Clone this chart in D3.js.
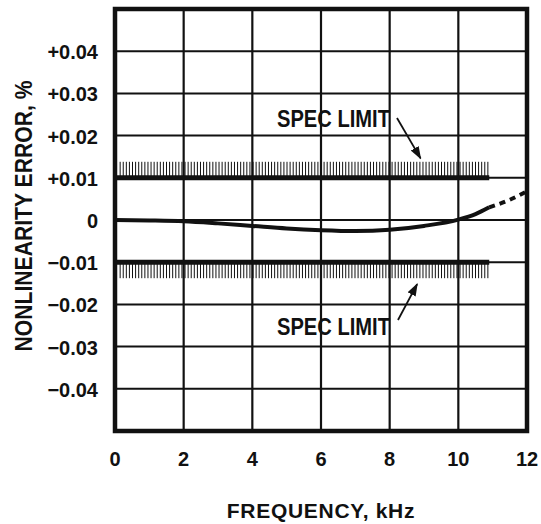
<!DOCTYPE html>
<html><head><meta charset="utf-8">
<script src="https://cdn.jsdelivr.net/npm/d3@7"></script>
<style>
html,body{margin:0;padding:0;background:#fff;}
text{font-family:"Liberation Sans",Arial,sans-serif;font-weight:bold;fill:#111;}
</style></head>
<body>
<svg id="chart" width="541" height="524"></svg>
<script>
// ---- data ----
const xTicks = [0, 2, 4, 6, 8, 10, 12];
const yTicks = [0.04, 0.03, 0.02, 0.01, 0, -0.01, -0.02, -0.03, -0.04];
const yTickLabels = ["+0.04", "+0.03", "+0.02", "+0.01", "0", "\u22120.01", "\u22120.02", "\u22120.03", "\u22120.04"];
const curveX = [0, 1, 2, 3, 4, 5, 6, 7, 8, 9, 10, 10.5, 10.9];
const curveY = [0, -0.0001, -0.0003, -0.0008, -0.0014, -0.002, -0.0024, -0.0026, -0.0023, -0.0014, 0.0001, 0.0014, 0.003];
const extrapX = [10.9, 11.5, 12];
const extrapY = [0.003, 0.0048, 0.0068];
const specLimits = [0.01, -0.01];
const specRange = [0, 10.9];
const hatchStep = 0.09;
const xTitle = "FREQUENCY, kHz";
const yTitle = "NONLINEARITY ERROR, %";
const annoText = "SPEC LIMIT";

// ---- layout ----
const svg = d3.select("#chart");
const L = 115, T = 9, W = 412, H = 422;
const x = d3.scaleLinear().domain([0, 12]).range([L, L + W]);
const y = d3.scaleLinear().domain([-0.05, 0.05]).range([T + H, T]);
const ink = "#111";

// grid
const g = svg.append("g");
g.selectAll(".hg").data(yTicks).enter().append("line")
  .attr("x1", L).attr("x2", L + W)
  .attr("y1", d => y(d)).attr("y2", d => y(d))
  .attr("stroke", ink).attr("stroke-width", 2);
g.selectAll(".vg").data(xTicks.filter(d => d > 0 && d < 12)).enter().append("line")
  .attr("y1", T).attr("y2", T + H)
  .attr("x1", d => x(d)).attr("x2", d => x(d))
  .attr("stroke", ink).attr("stroke-width", 2.2);

// spec limit lines with hatching
specLimits.forEach(v => {
  const dir = v > 0 ? -1 : 1;
  const hatch = d3.range(specRange[0] + 0.15, specRange[1] + 0.001, hatchStep);
  g.selectAll(null).data(hatch).enter().append("line")
    .attr("x1", d => x(d)).attr("x2", d => x(d))
    .attr("y1", y(v)).attr("y2", y(v) + dir * 16)
    .attr("stroke", ink).attr("stroke-width", 1);
  g.append("line")
    .attr("x1", x(specRange[0])).attr("x2", x(specRange[1]))
    .attr("y1", y(v)).attr("y2", y(v))
    .attr("stroke", ink).attr("stroke-width", 5);
});

// curve
const line = d3.line().x(d => x(d[0])).y(d => y(d[1])).curve(d3.curveMonotoneX);
g.append("path").datum(curveX.map((d, i) => [d, curveY[i]]))
  .attr("d", line).attr("fill", "none").attr("stroke", ink).attr("stroke-width", 4);
g.append("path").datum(extrapX.map((d, i) => [d, extrapY[i]]))
  .attr("d", line).attr("fill", "none").attr("stroke", ink).attr("stroke-width", 4)
  .attr("stroke-dasharray", "6,5");

// frame
svg.append("rect").attr("x", L).attr("y", T).attr("width", W).attr("height", H)
  .attr("fill", "none").attr("stroke", ink).attr("stroke-width", 4.5);

// axis labels
svg.selectAll(".xt").data(xTicks).enter().append("text")
  .attr("x", d => x(d)).attr("y", 466).attr("text-anchor", "middle")
  .attr("font-size", 20).text(d => d);
svg.selectAll(".yt").data(yTicks).enter().append("text")
  .attr("x", 98).attr("y", d => y(d) + 8).attr("text-anchor", "end")
  .attr("font-size", 20).text((d, i) => yTickLabels[i]);
svg.append("text").attr("x", x(6)).attr("y", 518).attr("text-anchor", "middle")
  .attr("font-size", 21).attr("letter-spacing", 0.7).text(xTitle);
svg.append("text").attr("transform", `translate(32,216) rotate(-90) scale(0.92,1)`)
  .attr("text-anchor", "middle").attr("font-size", 23).text(yTitle);

// annotations
const defs = svg.append("defs");
defs.append("marker").attr("id", "ah").attr("viewBox", "0 0 10 10")
  .attr("refX", 9).attr("refY", 5).attr("markerWidth", 13).attr("markerHeight", 13)
  .attr("markerUnits", "userSpaceOnUse").attr("orient", "auto")
  .append("path").attr("d", "M0,1.5 L10,5 L0,8.5 Z").attr("fill", ink);

svg.append("text").attr("transform", `translate(277,127) scale(0.876,1)`)
  .attr("font-size", 23).text(annoText);
svg.append("line").attr("x1", 397).attr("y1", 118)
  .attr("x2", x(8.9)).attr("y2", y(0.0146))
  .attr("stroke", ink).attr("stroke-width", 1.8).attr("marker-end", "url(#ah)");
svg.append("text").attr("transform", `translate(277,335) scale(0.876,1)`)
  .attr("font-size", 23).text(annoText);
svg.append("line").attr("x1", 398).attr("y1", 320)
  .attr("x2", x(8.8)).attr("y2", y(-0.0152))
  .attr("stroke", ink).attr("stroke-width", 1.8).attr("marker-end", "url(#ah)");
</script>
</body></html>
